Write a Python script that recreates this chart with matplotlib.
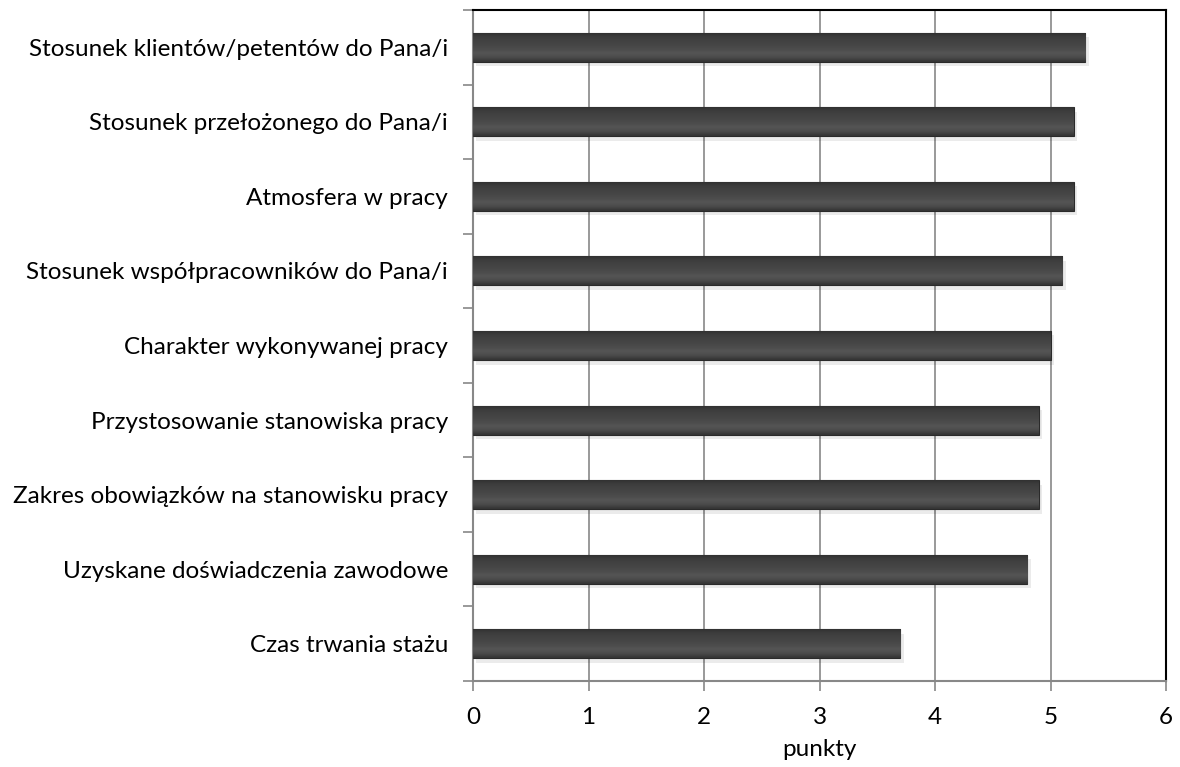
import matplotlib
matplotlib.use("Agg")
import matplotlib.pyplot as plt
import numpy as np
from matplotlib.colors import LinearSegmentedColormap

categories = [
    "Stosunek klientów/petentów do Pana/i",
    "Stosunek przełożonego do Pana/i",
    "Atmosfera w pracy",
    "Stosunek współpracowników do Pana/i",
    "Charakter wykonywanej pracy",
    "Przystosowanie stanowiska pracy",
    "Zakres obowiązków na stanowisku pracy",
    "Uzyskane doświadczenia zawodowe",
    "Czas trwania stażu",
]
values = [5.3, 5.2, 5.2, 5.1, 5.0, 4.9, 4.9, 4.8, 3.7]
xticks = [0, 1, 2, 3, 4, 5, 6]
xlabel = "punkty"

plt.rcParams['font.family'] = ['Lato', 'DejaVu Sans']
FS = 17.5

fig = plt.figure(figsize=(11.8, 7.67), dpi=100)
ax = fig.add_axes([473/1180, 1 - 681/767, (1166-473)/1180, (681-10)/767])

n = len(categories)
ypos = np.arange(n)[::-1]
h = 0.39

cmap = LinearSegmentedColormap.from_list(
    "bevel", ["#333333", "#4a4a4a", "#555555", "#4c4c4c", "#464646", "#424242", "#3c3c3c", "#2e2e2e"])

bars = ax.barh(ypos, values, height=h, color="#444444", edgecolor="#2a2a2a",
               linewidth=0.8, zorder=3)
# soft shadow
ax.barh(ypos - 0.06, values, height=h, left=0.03, color="#000000", alpha=0.08,
        linewidth=0, zorder=2)
grad = np.linspace(0, 1, 64).reshape(-1, 1)
for b in bars:
    x0, y0 = b.get_x(), b.get_y()
    w, hh = b.get_width(), b.get_height()
    im = ax.imshow(grad, cmap=cmap, aspect="auto", extent=[x0, x0 + w, y0 + hh, y0],
                   zorder=3.5, interpolation="bicubic")
    im.set_clip_path(b)

ax.set_xlim(0, 6)
ax.set_ylim(-0.5, n - 0.5)
ax.set_xticks(xticks)
ax.set_xticklabels([str(t) for t in xticks], fontsize=FS)
ax.set_yticks(ypos)
ax.set_yticklabels(categories, fontsize=FS)
ax.set_yticks(np.arange(-0.5, n, 1.0), minor=True)
ax.tick_params(axis='y', which='major', length=0, pad=18)
ax.tick_params(axis='y', which='minor', length=7, color="#888888", width=1.2)
ax.tick_params(axis='x', which='major', length=7, color="#888888", width=1.2, pad=12)
ax.grid(axis='x', color="#888888", linewidth=1.2, zorder=0)
ax.set_axisbelow(True)
ax.set_xlabel(xlabel, fontsize=FS, labelpad=8)

for s in ['left', 'bottom']:
    ax.spines[s].set_color("#888888")
    ax.spines[s].set_linewidth(1.5)
for s in ['top', 'right']:
    ax.spines[s].set_color("#000000")
    ax.spines[s].set_linewidth(1.5)

fig.savefig("out.png", dpi=100)
